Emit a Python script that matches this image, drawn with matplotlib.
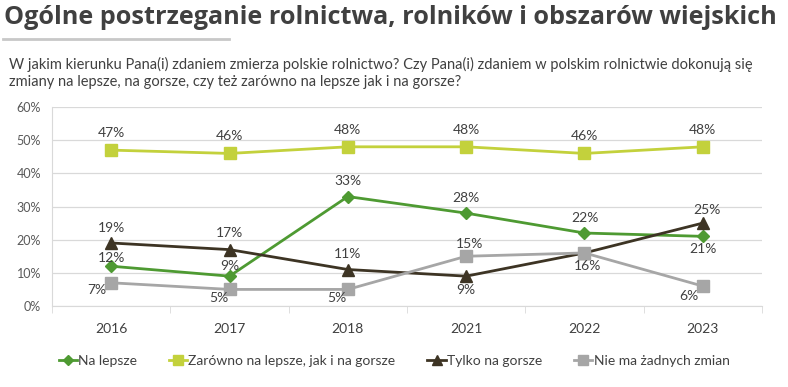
import matplotlib.pyplot as plt
from matplotlib.lines import Line2D

# dane
lata = ["2016", "2017", "2018", "2021", "2022", "2023"]
na_lepsze = [12, 9, 33, 28, 22, 21]
zarowno = [47, 46, 48, 48, 46, 48]
tylko_gorsze = [19, 17, 11, 9, 16, 25]
bez_zmian = [7, 5, 5, 15, 16, 6]
nazwy = ["Na lepsze", "Zarówno na lepsze, jak i na gorsze", "Tylko na gorsze", "Nie ma żadnych zmian"]

kolory = ["#4E9A32", "#C3D13C", "#3D3424", "#A6A6A6"]
markery = ["D", "s", "^", "s"]
rozmiary = [6, 8, 8.5, 8.5]
szary = "#404040"

plt.rcParams["font.family"] = ["Lato", "DejaVu Sans"]

fig = plt.figure(figsize=(7.88, 3.87), dpi=100)
ax = fig.add_axes([0.066, 0.2093, 0.901, 0.5142])

x = range(len(lata))
serie = [na_lepsze, zarowno, tylko_gorsze, bez_zmian]
for s, k, m, r in zip(serie, kolory, markery, rozmiary):
    ax.plot(x, s, color=k, lw=2, marker=m, ms=r, zorder=3)

# przesunięcia etykiet (piksele): None = brak etykiety
off = [
    [(0, 8), (0, 10), (0, 16), (0, 15), (0, 15), (0, -13)],
    [(0, 17), (0, 17), (0, 17), (0, 17), (0, 17), (0, 17)],
    [(0, 15), (0, 17), (0, 16), (0, -14), None, (4, 13)],
    [(-14, -7), (-11, -9), (-11, -9), (3, 12), (3, -13), (-14, -10)],
]
for s, o in zip(serie, off):
    for i, v in enumerate(s):
        if o[i] is None:
            continue
        ax.annotate(f"{v}%", (i, v), xytext=o[i], textcoords="offset pixels",
                    ha="center", va="center", fontsize=10, color=szary, zorder=4)

ax.set_xlim(-0.5, 5.5)
ax.set_ylim(0, 60)
ax.set_yticks(range(0, 61, 10))
ax.set_yticklabels([f"{t}%" for t in range(0, 61, 10)])
ax.set_xticks(list(x))
ax.set_xticklabels(lata)
ax.set_xticks([i - 0.5 for i in range(7)], minor=True)
ax.tick_params(axis="x", which="major", length=0, pad=12, labelsize=10, labelcolor=szary)
ax.tick_params(axis="x", which="minor", length=5, color="#D9D9D9")
ax.tick_params(axis="y", length=0, pad=8, labelsize=9, labelcolor="#595959")
ax.grid(axis="y", color="#D9D9D9", lw=0.9)
ax.set_axisbelow(True)
for sp in ["top", "right"]:
    ax.spines[sp].set_visible(False)
ax.spines["left"].set_color("#D9D9D9")
ax.spines["bottom"].set_color("#D9D9D9")

uchwyty = [Line2D([], [], color=k, lw=2, marker=m, ms=r * 0.85) for k, m, r in zip(kolory, markery, rozmiary)]
fig.legend(uchwyty, nazwy, loc="center", bbox_to_anchor=(0.5, 0.067), ncol=4, frameon=False,
           fontsize=10, handlelength=1.3, handletextpad=0.1, columnspacing=2.3, labelcolor=szary)

fig.text(0.005, 0.955, "Ogólne postrzeganie rolnictwa, rolników i obszarów wiejskich",
         fontsize=18.2, fontweight="bold", family=["Open Sans", "DejaVu Sans"], color=szary, va="center")
fig.add_artist(Line2D([0.004, 0.29], [0.9, 0.9], color="#C8C8C8", lw=2))
fig.text(0.011, 0.853, "W jakim kierunku Pana(i) zdaniem zmierza polskie rolnictwo? Czy Pana(i) zdaniem w polskim rolnictwie dokonują się\n"
         "zmiany na lepsze, na gorsze, czy też zarówno na lepsze jak i na gorsze?",
         fontsize=10.5, color=szary, va="top", linespacing=1.3)

fig.savefig("out.png", dpi=100)
